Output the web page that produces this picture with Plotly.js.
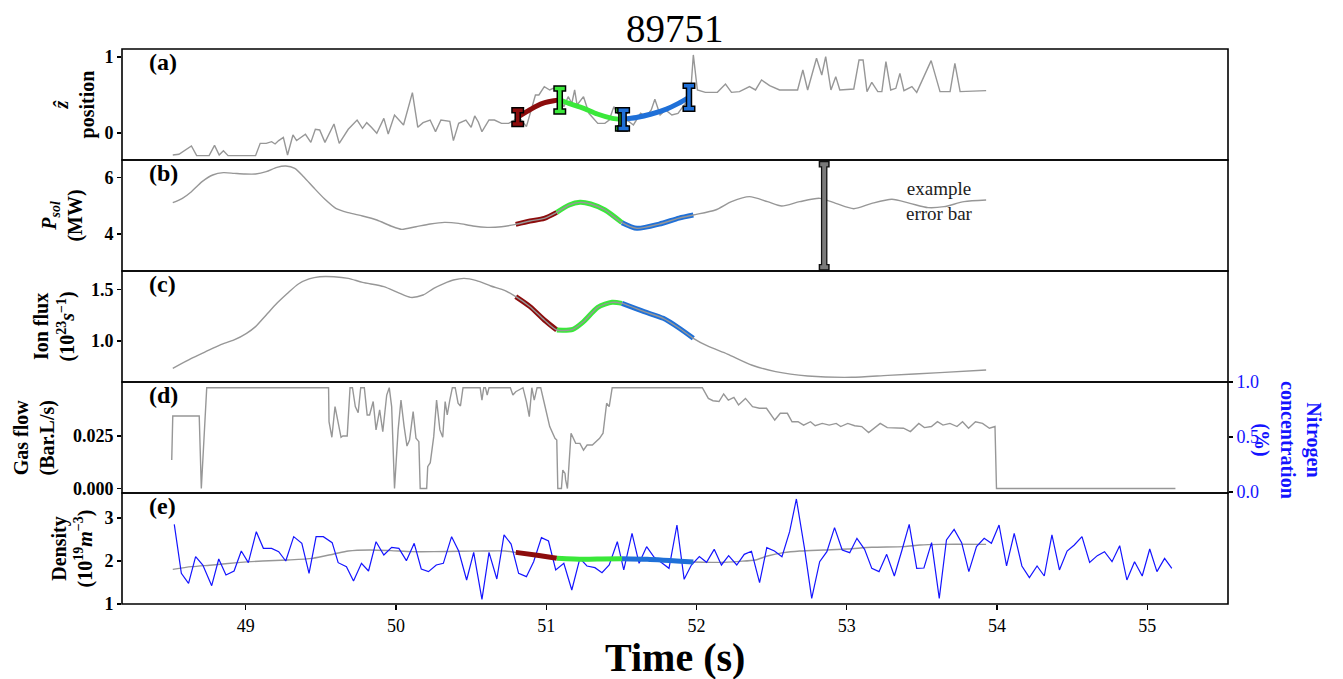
<!DOCTYPE html>
<html>
<head>
<meta charset="utf-8">
<script src="https://cdn.plot.ly/plotly-3.0.1.min.js"></script>
<style>html,body{margin:0;padding:0;background:#fff;}#chart{width:1343px;height:679px;}</style>
</head>
<body>
<div id="chart"></div>
<script>
// ---------------- data ----------------
const shotTitle = "89751";
const timeTicks = [49, 50, 51, 52, 53, 54, 55];
const panelLetters = ["(a)", "(b)", "(c)", "(d)", "(e)"];

// (a) z-hat position (noisy, gray)
const zTime = [48.514,48.555,48.638,48.673,48.756,48.792,48.823,48.851,48.882,49.065,49.096,49.136,49.172,49.195,49.219,49.250,49.278,49.314,49.338,49.361,49.397,49.433,49.463,49.492,49.527,49.587,49.622,49.682,49.741,49.777,49.805,49.836,49.872,49.919,49.948,49.990,50.050,50.109,50.145,50.180,50.227,50.263,50.299,50.358,50.382,50.417,50.465,50.500,50.524,50.548,50.572,50.619,50.655,50.702,50.750,50.773,50.821,50.868,50.928,50.951,50.987,51.023,51.046,51.070,51.117,51.146,51.170,51.189,51.205,51.248,51.284,51.343,51.390,51.419,51.450,51.473,51.509,51.580,51.628,51.663,51.699,51.723,51.758,51.794,51.836,51.877,51.926,51.953,51.979,52.006,52.059,52.139,52.193,52.233,52.286,52.353,52.393,52.433,52.487,52.553,52.673,52.708,52.740,52.799,52.834,52.860,52.895,52.927,52.954,53.047,53.082,53.109,53.135,53.167,53.207,53.234,53.261,53.293,53.327,53.354,53.381,53.434,53.466,53.562,53.621,53.688,53.720,53.755,53.875,53.928];
const zPos = [-0.289,-0.280,-0.171,-0.298,-0.298,-0.162,-0.289,-0.232,-0.298,-0.298,-0.136,-0.136,-0.114,-0.144,-0.100,-0.057,-0.289,-0.026,-0.100,-0.070,-0.017,-0.123,0.049,0.040,-0.123,0.119,-0.136,0.049,0.171,0.062,0.136,0.075,-0.004,0.193,-0.013,0.237,0.106,0.531,0.075,0.136,0.171,0.018,0.171,0.154,-0.100,0.127,0.171,0.075,0.224,0.145,0.018,0.171,0.171,0.127,0.127,0.154,0.206,0.084,0.500,0.500,0.610,0.566,0.588,0.566,0.347,0.478,0.391,0.566,0.369,0.478,0.259,0.127,0.127,0.171,0.347,0.259,0.215,0.106,0.259,0.215,0.303,0.443,0.237,0.303,0.237,0.259,0.391,0.303,1.027,0.566,0.535,0.535,0.645,0.535,0.544,0.610,0.566,0.698,0.623,0.566,0.566,0.829,0.566,0.983,0.763,1.005,0.566,0.741,0.566,0.579,0.961,0.961,0.544,0.667,0.544,0.544,0.939,0.566,0.588,0.785,0.557,0.610,0.535,0.952,0.544,0.544,0.917,0.544,0.557,0.557];

// (a) fitted phases
const zRedTime = [50.81, 50.87, 50.93, 50.99, 51.05, 51.09];
const zRedVal = [0.21, 0.28, 0.35, 0.40, 0.425, 0.434];
const zGreenTime = [51.09, 51.15, 51.25, 51.34, 51.44, 51.505];
const zGreenVal = [0.434, 0.39, 0.325, 0.25, 0.193, 0.18];
const zBlueTime = [51.505, 51.60, 51.70, 51.80, 51.88, 51.95];
const zBlueVal = [0.18, 0.205, 0.25, 0.315, 0.39, 0.47];
// (a) phase error bars
const zErrTime = [50.81, 51.09, 51.50, 51.515, 51.95];
const zErrVal = [0.21, 0.434, 0.18, 0.18, 0.47];
const zErrSize = [0.09, 0.15, 0.12, 0.12, 0.15];
const zErrPhase = [0, 1, 1, 2, 2];

// (b) P_sol
const psolTime = [48.514,48.578,48.638,48.709,48.780,48.851,48.922,48.994,49.065,49.136,49.207,49.266,49.326,49.385,49.456,49.527,49.599,49.682,49.777,49.872,49.966,50.038,50.133,50.227,50.322,50.417,50.512,50.607,50.702,50.797,50.892,50.987,51.070,51.153,51.224,51.296,51.391,51.504,51.604,51.752,51.884,51.979,52.126,52.233,52.353,52.473,52.567,52.687,52.820,52.927,53.047,53.167,53.301,53.421,53.541,53.648,53.781,53.928];
const psolVals = [5.105,5.258,5.493,5.846,6.081,6.163,6.140,6.116,6.116,6.198,6.351,6.398,6.316,6.022,5.611,5.223,4.905,4.752,4.635,4.494,4.282,4.164,4.258,4.352,4.411,4.376,4.282,4.235,4.258,4.341,4.458,4.552,4.764,5.023,5.117,5.058,4.846,4.400,4.200,4.350,4.560,4.670,4.846,5.140,5.317,5.140,4.987,5.140,5.258,5.081,4.893,5.081,5.223,5.081,4.929,4.964,5.140,5.199];
const exampleErrTime = [52.85];
const exampleErrLow = [2.83];
const exampleErrHigh = [6.46];

// (c) Ion flux
const fluxTime = [48.514,48.638,48.733,48.827,48.922,49.005,49.065,49.136,49.207,49.278,49.350,49.421,49.492,49.587,49.682,49.777,49.919,50.014,50.097,50.180,50.251,50.322,50.382,50.453,50.536,50.631,50.726,50.797,50.892,50.987,51.070,51.177,51.248,51.343,51.438,51.504,51.651,51.779,51.886,51.979,52.073,52.206,52.366,52.527,52.740,53.034,53.274,53.621,53.928];
const fluxVals = [0.736,0.832,0.897,0.961,1.010,1.074,1.139,1.252,1.364,1.461,1.551,1.600,1.622,1.622,1.606,1.567,1.526,1.468,1.422,1.445,1.509,1.558,1.590,1.606,1.584,1.532,1.487,1.429,1.332,1.203,1.106,1.113,1.187,1.326,1.374,1.364,1.284,1.219,1.123,1.026,0.952,0.874,0.768,0.704,0.662,0.649,0.668,0.694,0.720];

// (d) Gas flow
const gasTime = [48.507,48.514,48.690,48.704,48.740,49.551,49.554,49.573,49.594,49.615,49.634,49.646,49.675,49.694,49.710,49.729,49.748,49.765,49.789,49.808,49.824,49.848,49.867,49.891,49.912,49.938,49.955,49.971,49.990,50.014,50.033,50.054,50.073,50.090,50.114,50.133,50.152,50.161,50.204,50.211,50.228,50.251,50.270,50.292,50.311,50.327,50.341,50.358,50.375,50.394,50.413,50.429,50.446,50.560,50.572,50.584,50.595,50.607,50.619,50.761,50.778,50.797,50.845,50.868,50.887,50.904,50.920,50.939,50.963,50.987,51.023,51.058,51.070,51.077,51.101,51.110,51.125,51.129,51.141,51.165,51.196,51.224,51.248,51.272,51.307,51.355,51.378,51.402,51.419,51.439,52.039,52.079,52.110,52.150,52.181,52.212,52.249,52.280,52.326,52.373,52.419,52.466,52.521,52.558,52.605,52.636,52.676,52.713,52.759,52.790,52.837,52.883,52.930,52.960,53.007,53.053,53.100,53.146,53.192,53.223,53.270,53.332,53.378,53.424,53.480,53.517,53.564,53.604,53.641,53.687,53.734,53.771,53.811,53.857,53.904,53.950,53.987,53.997,55.188];
const gasVals = [0.0136,0.0345,0.0345,0.0000,0.0480,0.0480,0.0318,0.0244,0.0390,0.0318,0.0244,0.0250,0.0250,0.0480,0.0480,0.0390,0.0361,0.0480,0.0480,0.0350,0.0350,0.0414,0.0279,0.0374,0.0271,0.0445,0.0480,0.0390,0.0000,0.0279,0.0421,0.0295,0.0202,0.0231,0.0366,0.0239,0.0223,0.0000,0.0000,0.0104,0.0123,0.0247,0.0421,0.0279,0.0244,0.0414,0.0350,0.0421,0.0480,0.0480,0.0406,0.0393,0.0480,0.0480,0.0421,0.0480,0.0480,0.0445,0.0480,0.0480,0.0445,0.0461,0.0480,0.0414,0.0342,0.0480,0.0421,0.0480,0.0480,0.0406,0.0295,0.0239,0.0231,0.0000,0.0000,0.0088,0.0072,0.0041,0.0000,0.0263,0.0215,0.0215,0.0183,0.0207,0.0207,0.0239,0.0263,0.0406,0.0390,0.0480,0.0480,0.0429,0.0418,0.0414,0.0450,0.0421,0.0434,0.0398,0.0429,0.0390,0.0382,0.0382,0.0326,0.0358,0.0358,0.0318,0.0318,0.0302,0.0318,0.0299,0.0310,0.0302,0.0310,0.0295,0.0310,0.0299,0.0295,0.0266,0.0295,0.0310,0.0290,0.0290,0.0287,0.0271,0.0310,0.0290,0.0295,0.0318,0.0302,0.0310,0.0295,0.0318,0.0287,0.0318,0.0310,0.0287,0.0295,0.0000,0.0000];
const nitrogenTicks = [0.0, 0.5, 1.0];

// (e) Density (smooth, gray) and noisy blue signal
const densTime = [48.514,48.638,48.780,48.946,49.112,49.278,49.444,49.587,49.682,49.824,49.966,50.109,50.251,50.417,50.584,50.726,50.797,50.940,51.070,51.248,51.367,51.504,51.672,51.979,52.153,52.286,52.393,52.473,52.580,52.687,52.847,53.007,53.167,53.381,53.488,53.621,53.928];
const densVals = [1.806,1.868,1.907,1.961,2.000,2.023,2.062,2.163,2.232,2.256,2.240,2.217,2.217,2.225,2.232,2.232,2.200,2.132,2.062,2.039,2.046,2.055,2.039,1.975,1.969,1.992,2.023,2.116,2.194,2.232,2.256,2.279,2.318,2.333,2.372,2.387,2.387];
const blueTime = [48.524,48.571,48.619,48.666,48.714,48.773,48.820,48.868,48.922,48.970,49.017,49.070,49.117,49.172,49.219,49.266,49.319,49.373,49.421,49.468,49.516,49.575,49.615,49.670,49.717,49.770,49.817,49.867,49.919,49.971,50.019,50.069,50.121,50.168,50.216,50.268,50.315,50.370,50.417,50.470,50.517,50.572,50.619,50.671,50.719,50.766,50.816,50.868,50.916,50.968,51.015,51.063,51.117,51.170,51.224,51.271,51.324,51.371,51.419,51.473,51.516,51.571,51.618,51.668,51.715,51.765,51.817,51.870,51.918,51.966,52.019,52.067,52.118,52.166,52.214,52.268,52.318,52.366,52.420,52.468,52.519,52.569,52.620,52.665,52.719,52.767,52.820,52.868,52.919,52.970,53.020,53.068,53.119,53.167,53.215,53.266,53.317,53.368,53.416,53.466,53.514,53.565,53.616,53.664,53.715,53.765,53.813,53.864,53.915,53.963,54.014,54.064,54.115,54.166,54.216,54.267,54.315,54.366,54.416,54.467,54.515,54.566,54.617,54.668,54.716,54.766,54.817,54.865,54.916,54.967,55.017,55.065,55.116,55.164];
const blueVals = [2.853,1.713,1.481,2.101,1.907,1.426,2.046,1.674,1.767,2.232,1.961,2.682,2.294,2.294,2.217,2.000,2.566,2.411,1.713,2.566,2.566,2.426,1.961,1.868,1.535,1.946,1.767,2.449,2.139,2.318,2.294,2.008,2.411,1.814,1.752,1.907,1.946,2.566,2.232,1.558,2.201,1.108,2.201,1.581,2.605,2.395,1.713,1.636,1.984,2.542,2.465,1.791,1.946,1.325,2.062,1.884,1.845,1.729,1.907,2.449,1.791,2.643,1.946,2.333,2.101,1.961,1.829,2.837,1.574,1.907,2.101,1.969,2.271,1.907,2.124,1.907,2.155,2.225,1.496,2.310,2.232,2.101,2.682,3.442,2.294,1.132,1.984,2.217,2.775,2.256,2.194,2.527,2.271,1.829,1.752,2.155,1.651,2.256,2.853,1.829,1.837,2.426,1.132,2.488,2.736,2.426,1.752,2.333,2.527,2.411,2.837,1.884,2.643,1.884,1.612,1.884,1.651,2.605,1.791,2.232,2.372,2.566,1.969,2.124,2.217,1.984,2.357,1.558,1.984,1.651,2.279,1.752,2.062,1.829];

// phase windows (s) used to colour (b), (c), (e)
const phaseStart = [50.797, 51.070, 51.504];
const phaseEnd = [51.070, 51.504, 51.979];

// ---------------- style ----------------
const FONT = '"Liberation Serif", "Times New Roman", serif';
const GRAY = '#979797';
const PHASE_COLORS = ['#8c0c0c', '#3ae83a', '#1f70d8'];
const BLUE = '#1414ff';

function pairs(t, v) { const n = Math.min(t.length, v.length); return [t.slice(0, n), v.slice(0, n)]; }
function grayLine(t, v, ya, shape) {
  const [x, y] = pairs(t, v);
  return {type: 'scatter', mode: 'lines', x: x, y: y, xaxis: 'x', yaxis: ya,
          line: {color: GRAY, width: 1.4, shape: shape || 'linear', smoothing: 0.7}, hoverinfo: 'skip'};
}
function phaseLines(t, v, ya, width) {
  const out = [];
  for (let k = 0; k < phaseStart.length; k++) {
    const x = [], y = [];
    for (let i = 0; i < Math.min(t.length, v.length); i++) {
      if (t[i] >= phaseStart[k] - 1e-6 && t[i] <= phaseEnd[k] + 1e-6) { x.push(t[i]); y.push(v[i]); }
    }
    out.push({type: 'scatter', mode: 'lines', x: x, y: y, xaxis: 'x', yaxis: ya,
              line: {color: PHASE_COLORS[k], width: width, shape: 'spline', smoothing: 0.7}, hoverinfo: 'skip'});
  }
  return out;
}
function errTrace(t, v, e, ya, color, thick, w) {
  return {type: 'scatter', mode: 'markers', x: t, y: v, xaxis: 'x', yaxis: ya,
          marker: {size: 1, color: 'rgba(0,0,0,0)'}, hoverinfo: 'skip',
          error_y: {type: 'data', array: e, visible: true, color: color, thickness: thick, width: w}};
}

const traces = [];
// (a)
traces.push(grayLine(zTime, zPos, 'y'));
[[zRedTime, zRedVal], [zGreenTime, zGreenVal], [zBlueTime, zBlueVal]].forEach((p, k) => {
  traces.push({type: 'scatter', mode: 'lines', x: p[0], y: p[1], xaxis: 'x', yaxis: 'y',
               line: {color: PHASE_COLORS[k], width: 5, shape: 'spline', smoothing: 0.8}, hoverinfo: 'skip'});
});
for (let i = 0; i < zErrTime.length; i++) {
  traces.push(errTrace([zErrTime[i]], [zErrVal[i]], [zErrSize[i]], 'y', '#000', 6.5, 6.5));
  traces.push(errTrace([zErrTime[i]], [zErrVal[i]], [zErrSize[i]], 'y', PHASE_COLORS[zErrPhase[i]], 3.5, 5));
}
// (b)
phaseLines(psolTime, psolVals, 'y2', 5).forEach(t => traces.push(t));
traces.push(grayLine(psolTime, psolVals, 'y2', 'spline'));
{
  const mid = exampleErrTime.map((_, i) => (exampleErrLow[i] + exampleErrHigh[i]) / 2);
  const half = exampleErrTime.map((_, i) => (exampleErrHigh[i] - exampleErrLow[i]) / 2);
  traces.push(errTrace(exampleErrTime, mid, half, 'y2', '#111', 6.5, 5.5));
  traces.push(errTrace(exampleErrTime, mid, half, 'y2', '#7a7a7a', 4, 4));
}
// (c)
phaseLines(fluxTime, fluxVals, 'y3', 5).forEach(t => traces.push(t));
traces.push(grayLine(fluxTime, fluxVals, 'y3', 'spline'));
// (d)
traces.push(grayLine(gasTime, gasVals, 'y4'));
traces.push({type: 'scatter', mode: 'lines', x: [], y: [], xaxis: 'x', yaxis: 'y6', hoverinfo: 'skip'});
// (e)
traces.push(grayLine(densTime, densVals, 'y5', 'spline'));
traces.push({type: 'scatter', mode: 'lines', x: blueTime, y: blueVals, xaxis: 'x', yaxis: 'y5',
             line: {color: BLUE, width: 1.2}, hoverinfo: 'skip'});
phaseLines(densTime, densVals, 'y5', 5).forEach(t => traces.push(t));

// ---------------- layout ----------------
const tickFontBold = {family: FONT, size: 18, color: '#000', weight: 'bold'};
function yax(domain, range, tickvals, ticktext) {
  return {domain: domain, range: range, anchor: 'x', tickvals: tickvals, ticktext: ticktext,
          ticks: 'outside', ticklen: 4, tickwidth: 1.2, tickcolor: '#000', tickfont: tickFontBold,
          showgrid: false, zeroline: false, showline: false, fixedrange: true};
}
const domains = [[0.8, 1], [0.6, 0.8], [0.4, 0.6], [0.2, 0.4], [0, 0.2]];
const shapes = domains.map(d => ({type: 'rect', xref: 'paper', yref: 'paper', x0: 0, x1: 1, y0: d[0], y1: d[1],
                                   line: {color: '#000', width: 1.6}, fillcolor: 'rgba(0,0,0,0)'}));

const annotations = [];
annotations.push({xref: 'paper', yref: 'paper', x: 0.5, y: 1.0378, xanchor: 'center', yanchor: 'middle',
                  showarrow: false, text: shotTitle, font: {family: FONT, size: 39, color: '#000'}});
annotations.push({xref: 'paper', yref: 'paper', x: 0.5, y: -0.0965, xanchor: 'center', yanchor: 'middle',
                  showarrow: false, text: '<b>Time (s)</b>', font: {family: FONT, size: 40, color: '#000'}});
panelLetters.forEach((s, i) => {
  annotations.push({xref: 'paper', yref: 'paper', x: 0.0226, y: domains[i][1] - 0.0234, xanchor: 'left', yanchor: 'middle',
                    showarrow: false, text: '<b>' + s + '</b>', font: {family: FONT, size: 24, color: '#000'}});
});
const yTitles = [
  '<b><i>ẑ</i></b><br><b>position</b>',
  '<b><i>P<sub>sol</sub></i></b><br><b>(MW)</b>',
  '<b>Ion flux</b><br><b>(10<sup>23</sup><i>s</i><sup>−1</sup>)</b>',
  '<b>Gas flow</b><br><b>(Bar.L/s)</b>',
  '<b>Density</b><br><b>(10<sup>19</sup><i>m</i><sup>−3</sup>)</b>'
];
const yTitleX = [-0.0425, -0.0542, -0.0606, -0.0787, -0.0452];
yTitles.forEach((s, i) => {
  annotations.push({xref: 'paper', yref: 'paper', x: yTitleX[i], y: (domains[i][0] + domains[i][1]) / 2,
                    xanchor: 'center', yanchor: 'middle', textangle: -90, showarrow: false, text: s,
                    font: {family: FONT, size: 20, color: '#000'}});
});
annotations.push({xref: 'paper', yref: 'paper', x: 1.0533, y: 0.2955, xanchor: 'center', yanchor: 'middle',
                  textangle: 90, showarrow: false, text: '<b>Nitrogen</b><br><b>concentration</b><br><b>(%)</b>',
                  font: {family: FONT, size: 20, color: BLUE}});
annotations.push({xref: 'paper', yref: 'paper', x: 0.7396, y: 0.727, xanchor: 'center', yanchor: 'middle',
                  showarrow: false, text: 'example<br>error bar', font: {family: FONT, size: 19, color: '#222'}});

const layout = {
  width: 1343, height: 679,
  margin: {l: 122, r: 115, t: 49, b: 75, pad: 0},
  paper_bgcolor: '#fff', plot_bgcolor: '#fff',
  showlegend: false,
  xaxis: {domain: [0, 1], range: [48.176, 55.538], anchor: 'y5', tickvals: timeTicks,
          ticks: 'outside', ticklen: 5, tickwidth: 1.2, tickcolor: '#000',
          tickfont: {family: FONT, size: 18, color: '#000'}, showgrid: false, zeroline: false, showline: false, fixedrange: true},
  yaxis: yax(domains[0], [-0.355, 1.105], [0, 1], ['0', '1']),
  yaxis2: yax(domains[1], [2.695, 6.610], [4, 6], ['4', '6']),
  yaxis3: yax(domains[2], [0.6035, 1.677], [1.0, 1.5], ['1.0', '1.5']),
  yaxis4: yax(domains[3], [-0.00214, 0.05071], [0, 0.025], ['0.000', '0.025']),
  yaxis5: yax(domains[4], [1, 3.581], [1, 2, 3], ['1', '2', '3']),
  yaxis6: {overlaying: 'y4', side: 'right', anchor: 'x', range: [-0.009, 1.0], tickvals: nitrogenTicks,
           ticktext: nitrogenTicks.map(v => v.toFixed(1)), ticks: 'outside', ticklen: 4, tickwidth: 1.2, tickcolor: '#000',
           tickfont: {family: FONT, size: 18, color: BLUE}, showgrid: false, zeroline: false, showline: false, fixedrange: true},
  shapes: shapes,
  annotations: annotations
};

Plotly.newPlot('chart', traces, layout, {displayModeBar: false, staticPlot: true});
</script>
</body>
</html>
